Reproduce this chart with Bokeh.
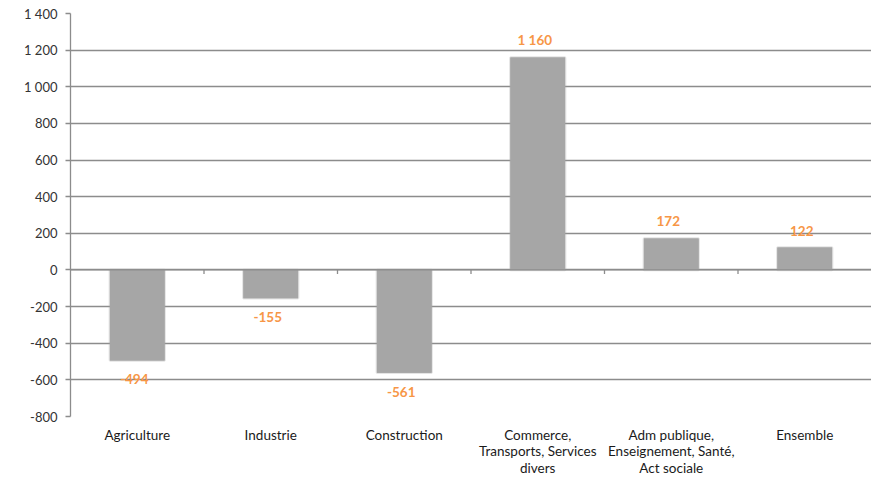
from bokeh.plotting import figure
from bokeh.models import ColumnDataSource, Range1d, FixedTicker, Span
from bokeh.core.properties import value
from bokeh.embed import file_html
from bokeh.resources import INLINE

# Employment change by sector (thousands)
categories = [
    "Agriculture",
    "Industrie",
    "Construction",
    "Commerce,\nTransports, Services\ndivers",
    "Adm publique,\nEnseignement, Santé,\nAct sociale",
    "Ensemble",
]
values = [-494, -155, -561, 1160, 172, 122]

y_ticks = [-800, -600, -400, -200, 0, 200, 400, 600, 800, 1000, 1200, 1400]
y_tick_labels = ["-800", "-600", "-400", "-200", "0", "200", "400", "600",
                 "800", "1 000", "1 200", "1 400"]

FONT = "Lato"
BAR = "#a6a6a6"
ORANGE = "#f79646"
GRID = "#8c8c8c"

n = len(categories)
centers = [i + 0.5 for i in range(n)]
labels = [f"{v:,}".replace(",", " ") for v in values]

src = ColumnDataSource(dict(
    x=centers,
    top=values,
    label=labels,
    yoff=[19 if v < 0 else -17 for v in values],
))

p = figure(width=871, height=479, output_backend="svg", toolbar_location=None,
           x_range=Range1d(0, n), y_range=Range1d(y_ticks[0], y_ticks[-1]),
           min_border_left=70, min_border_right=0, min_border_top=13,
           min_border_bottom=0)
p.outline_line_color = None
p.background_fill_color = "white"
p.border_fill_color = "white"

# horizontal gridlines
p.ygrid.ticker = FixedTicker(ticks=y_ticks)
p.ygrid.grid_line_color = GRID
p.ygrid.grid_line_width = 1.3
p.xgrid.visible = False

# bars, with a soft edge
p.vbar(x="x", top="top", bottom=0, width=0.41, source=src,
       fill_color=BAR, line_color=BAR, line_alpha=0.3, line_width=2.5)
p.vbar(x="x", top="top", bottom=0, width=0.41, source=src,
       fill_color=BAR, line_color=None)

# zero line with category separator ticks
p.add_layout(Span(location=0, dimension="width", line_color=GRID, line_width=1.3))
tick_len = 4 * (y_ticks[-1] - y_ticks[0]) / 403
bounds = list(range(1, n))
p.segment(x0=bounds, x1=bounds, y0=[0] * len(bounds),
          y1=[-tick_len] * len(bounds), line_color=GRID, line_width=1.3)

# value labels
p.text(x="x", y="top", text="label", source=src, y_offset="yoff", x_offset=-3,
       text_align="center", text_baseline="middle",
       text_font=value(FONT), text_font_size="13.5px", text_font_style="bold",
       text_color=ORANGE)

# y axis
ya = p.yaxis[0]
ya.ticker = FixedTicker(ticks=y_ticks)
ya.major_label_overrides = {t: l for t, l in zip(y_ticks, y_tick_labels)}
ya.axis_line_color = GRID
ya.axis_line_width = 1.3
ya.major_tick_line_color = GRID
ya.major_tick_line_width = 1.3
ya.major_tick_out = 5
ya.major_tick_in = 0
ya.minor_tick_line_color = None
ya.major_label_text_font = FONT
ya.major_label_text_font_size = "13px"
ya.major_label_text_color = "#333333"
ya.major_label_standoff = 8

# category axis
xa = p.xaxis[0]
xa.ticker = FixedTicker(ticks=centers)
xa.major_label_overrides = {c: lab for c, lab in zip(centers, categories)}
xa.axis_line_color = None
xa.major_tick_line_color = None
xa.minor_tick_line_color = None
xa.major_label_text_font = FONT
xa.major_label_text_font_size = "13.5px"
xa.major_label_text_color = "#1a1a1a"
xa.major_label_text_line_height = 1.05
xa.major_label_standoff = 4

open("out.html", "w").write(file_html(p, INLINE))
